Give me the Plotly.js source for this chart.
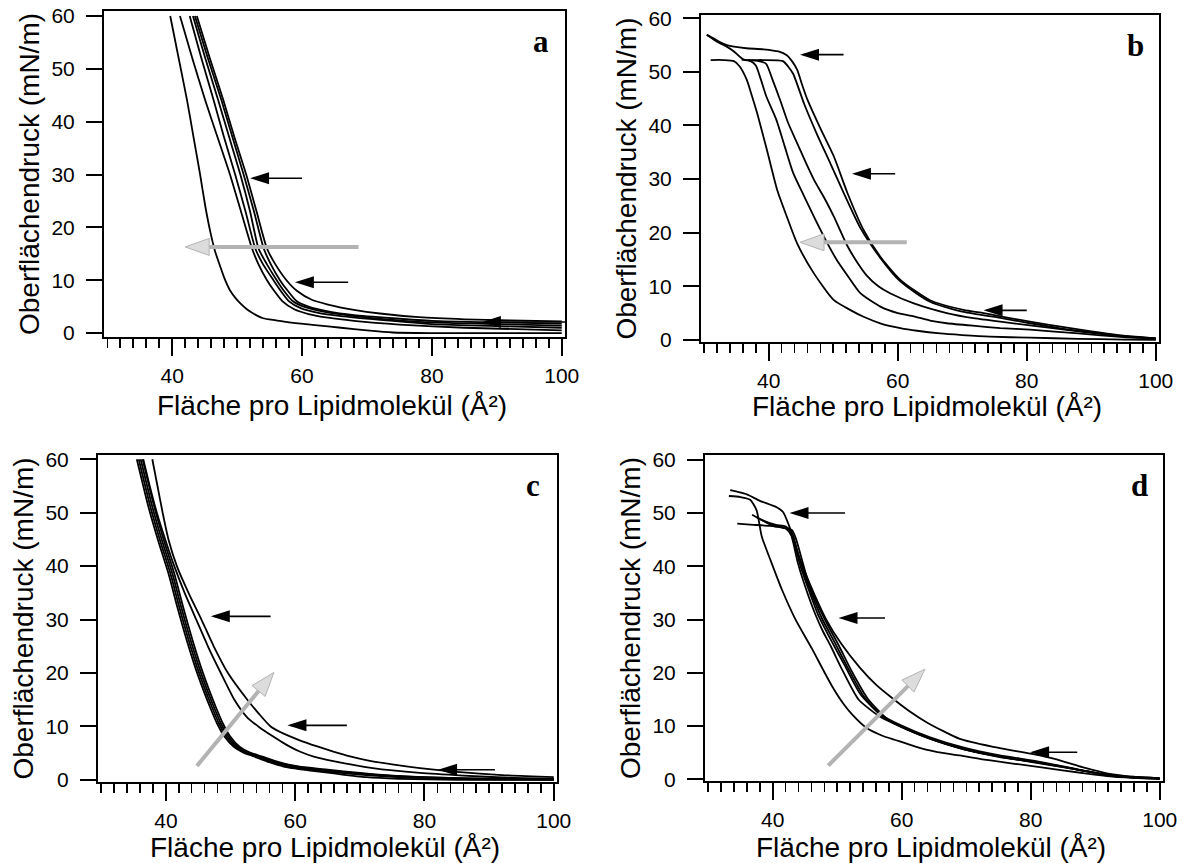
<!DOCTYPE html>
<html><head><meta charset="utf-8">
<script src="https://cdn.plot.ly/plotly-3.0.1.min.js"></script>
<style>html,body{margin:0;padding:0;background:#fff;} #chart{width:1189px;height:863px;}</style>
</head><body><div id="chart"></div>
<script>
// ---------------- labels ----------------
const xTitle = 'Fläche pro Lipidmolekül (Å²)';
const yTitle = 'Oberflächendruck (mN/m)';
const xTickVals = [40, 60, 80, 100];
const yTickVals = [0, 10, 20, 30, 40, 50, 60];
const panelLabels = ['a', 'b', 'c', 'd'];

// ---------------- panel a ----------------
const a1_x = [39.7, 41.0, 42.3, 43.3, 44.3, 45.1, 45.9, 46.6, 47.4, 48.1, 48.9, 49.7, 50.5, 51.5, 52.5, 54.0, 56.0, 58.0, 62.0, 66.0, 70.0, 74.0, 80.0, 100.0];
const a1_y = [60, 52, 44, 37, 30, 24, 19, 15.5, 12.6, 10.2, 8.1, 6.7, 5.6, 4.5, 3.7, 2.8, 2.4, 2.0, 1.5, 1.0, 0.5, 0.1, 0, 0];
const a2_x = [41.2, 43.1, 45.1, 47.0, 48.9, 50.6, 52.3, 53.3, 54.6, 55.7, 57.0, 58.8, 61.0, 64.0, 68.0, 75.0, 85.0, 100];
const a2_y = [60, 52, 44, 37, 30, 23, 16, 13, 10, 8, 6, 4.5, 3.6, 2.9, 2.3, 1.6, 1.0, 0.5];
const a3_x = [42.7, 44.5, 46.4, 48.0, 49.7, 51.3, 52.8, 54.0, 55.6, 56.7, 58.0, 59.8, 62.5, 66.0, 72.0, 80.0, 90.0, 100];
const a3_y = [60, 52, 44, 37, 30, 23, 16, 13, 10, 8, 6, 4.7, 3.8, 3.2, 2.5, 1.7, 1.3, 1.0];
const a4_x = [43.2, 45.1, 47.1, 48.8, 50.5, 52.0, 53.3, 54.6, 56.1, 57.2, 58.6, 60.5, 63.5, 68.0, 74.0, 80.0, 90.0, 100];
const a4_y = [60, 52, 44, 37, 30, 23, 16, 13, 10, 8, 6, 4.9, 4.0, 3.2, 2.5, 2.0, 1.7, 1.4];
const a5_x = [43.5, 45.5, 47.6, 49.3, 51.0, 52.6, 54.1, 55.2, 56.6, 57.8, 59.2, 61.0, 64.0, 68.0, 74.0, 80.0, 90.0, 100];
const a5_y = [60, 52, 44, 37, 30, 23, 16, 13, 10, 8, 6, 5.0, 4.1, 3.4, 2.8, 2.3, 2.0, 1.8];
const a6_x = [43.8, 45.8, 47.9, 49.6, 51.4, 53.0, 54.6, 55.9, 57.6, 59.2, 61.5, 64.0, 68.0, 72.0, 78.0, 85.0, 92.0, 100];
const a6_y = [60, 52, 44, 37, 30, 23, 16, 13, 10, 8, 6.3, 5.4, 4.4, 3.7, 3.0, 2.6, 2.4, 2.2];

// ---------------- panel b ----------------
const b1_x = [31.0, 33.0, 34.6, 35.5, 36.6, 37.4, 38.2, 39.7, 41.3, 42.8, 44.4, 47.0, 50.1, 52.6, 54.7, 57.5, 60.4, 63.0, 66.6, 70.0, 74.3, 80.5, 88.0, 95.0, 100];
const b1_y = [52.2, 52.2, 52.0, 51.0, 48.5, 45.5, 42.3, 35.5, 28.0, 23.0, 18.0, 12.4, 7.4, 5.6, 4.3, 3.0, 2.2, 1.7, 1.2, 0.9, 0.6, 0.4, 0.2, 0.05, 0];
const b2_x = [35.8, 37.2, 38.0, 38.8, 39.6, 41.2, 42.5, 43.8, 45.4, 47.0, 49.1, 50.6, 52.2, 54.2, 57.3, 60.0, 62.5, 65.0, 67.6, 72.0, 75.9, 80.5, 88, 95, 100];
const b2_y = [52.3, 52.0, 51.2, 48.5, 45.5, 41.0, 36.0, 31.1, 27.0, 23.0, 18.0, 14.8, 12.0, 8.7, 6.2, 5.0, 4.4, 3.6, 3.1, 2.6, 2.2, 1.9, 1.2, 0.5, 0.2];
const b3_x = [36.8, 38.5, 39.6, 40.6, 41.75, 43.0, 44.4, 45.7, 47.0, 48.6, 50.1, 52.2, 53.7, 55.2, 57.0, 58.8, 62.5, 67.6, 72.0, 75.9, 80.5, 88, 95, 100];
const b3_y = [52.2, 52.0, 51.5, 48.5, 44.8, 40.5, 36.7, 33.2, 29.9, 26.5, 23.0, 17.5, 14.5, 12.0, 10.0, 8.7, 6.8, 5.0, 4.0, 3.4, 2.7, 1.6, 0.7, 0.3];
const b4_x = [30.4, 31.5, 32.5, 33.5, 34.6, 36.1, 39.0, 42.2, 43.0, 43.8, 45.5, 47.5, 49.6, 51.7, 54.2, 57.3, 60.4, 65.0, 70.2, 75.9, 80.5, 85, 90, 95, 100];
const b4_y = [56.9, 56.0, 55.3, 54.7, 53.8, 52.3, 52.2, 52.0, 51.0, 49.6, 44.0, 38.3, 32.8, 27.2, 20.9, 15.3, 10.9, 7.1, 5.2, 4.1, 3.1, 2.2, 1.4, 0.7, 0.2];
const b5_x = [30.4, 31.5, 32.5, 33.5, 34.6, 36.5, 39.2, 41.5, 42.8, 43.6, 44.4, 45.2, 46.0, 48.1, 50.1, 52.2, 54.7, 57.3, 60.4, 65.0, 70.2, 73.3, 75.9, 80.5, 85, 90, 95, 100];
const b5_y = [56.9, 56.2, 55.5, 55.0, 54.7, 54.4, 54.2, 53.8, 53.1, 52.0, 50.4, 47.5, 44.8, 39.2, 34.2, 27.4, 20.5, 15.5, 11.2, 7.4, 5.6, 5.0, 4.4, 3.4, 2.5, 1.6, 0.8, 0.3];

// ---------------- panel c ----------------
const c1_x = [35.5, 36.4, 37.3, 38.8, 40.4, 41.8, 43.2, 44.5, 45.8, 46.9, 47.9, 49.0, 50.5, 52.0, 53.6, 56.0, 58.2, 62.0, 66.0, 71.0, 76.0, 85.0, 100];
const c1_y = [60, 55.5, 51.1, 44.8, 38.6, 32.2, 26.2, 21.2, 16.8, 13.4, 10.6, 8.2, 6.2, 5.1, 4.4, 3.3, 2.5, 1.8, 1.2, 0.5, 0.2, 0, 0];
const c2_x = [35.8, 36.7, 37.6, 39.1, 40.7, 42.1, 43.5, 44.8, 46.1, 47.2, 48.2, 49.3, 50.8, 52.3, 54.0, 56.5, 59.0, 63.0, 67.0, 72.0, 78.0, 88.0, 100];
const c2_y = [60, 55.5, 51.1, 44.8, 38.6, 32.2, 26.2, 21.2, 16.8, 13.4, 10.6, 8.2, 6.2, 5.1, 4.4, 3.3, 2.5, 1.8, 1.3, 0.8, 0.4, 0.1, 0];
const c3_x = [36.1, 37.0, 37.9, 39.4, 41.0, 42.4, 43.8, 45.1, 46.4, 47.5, 48.5, 49.6, 51.1, 52.7, 54.5, 57.0, 60.0, 64.0, 68.0, 73.0, 80.0, 90.0, 100];
const c3_y = [60, 55.5, 51.1, 44.8, 38.6, 32.2, 26.2, 21.2, 16.8, 13.4, 10.6, 8.2, 6.2, 5.1, 4.4, 3.3, 2.5, 1.9, 1.4, 0.9, 0.5, 0.2, 0.1];
const c4_x = [36.4, 37.3, 38.2, 39.7, 41.3, 42.7, 44.1, 45.4, 46.7, 47.8, 48.8, 49.9, 51.4, 53.0, 54.8, 57.5, 60.5, 65.0, 70.0, 75.0, 82.0, 92.0, 100];
const c4_y = [60, 55.5, 51.1, 44.8, 38.6, 32.2, 26.2, 21.2, 16.8, 13.4, 10.6, 8.2, 6.2, 5.1, 4.4, 3.3, 2.5, 1.9, 1.3, 0.8, 0.4, 0.2, 0.1];
const c5_x = [36.5, 37.5, 38.6, 39.9, 41.3, 42.9, 44.7, 46.5, 48.5, 50.6, 52.5, 54.5, 56.6, 58.6, 60.7, 63.0, 65.9, 72.0, 79.3, 86.0, 93.0, 100];
const c5_y = [60, 55, 50, 45, 40, 35, 30, 25, 20, 15, 11.8, 9.8, 8.1, 6.6, 5.3, 4.3, 3.5, 2.2, 1.3, 0.8, 0.4, 0.2];
const c6_x = [37.9, 38.7, 39.5, 40.4, 41.7, 43.5, 45.5, 47.4, 49.6, 52.6, 54.3, 56.2, 58.3, 60.7, 63.3, 65.9, 68.5, 71.0, 75.0, 79.3, 85.0, 92.0, 100];
const c6_y = [60, 55, 50, 45, 40, 35, 30, 25, 20, 15, 12.5, 10, 8.6, 7.4, 6.3, 5.3, 4.4, 3.7, 2.9, 2.2, 1.5, 0.9, 0.5];

// ---------------- panel d ----------------
const d1_x = [33.4, 34.5, 36.0, 38.0, 40.6, 41.6, 42.6, 43.9, 45.9, 48.3, 50.6, 53.5, 56.0, 58.7, 61.2, 63.9, 69.0, 74.2, 81.4, 85.0, 88.0, 92.0, 96.0, 100];
const d1_y = [54.3, 54.0, 53.5, 52.3, 51.1, 50.2, 47.4, 42.4, 36.3, 30.0, 25.5, 21.0, 17.8, 15.1, 12.8, 10.7, 7.6, 6.1, 4.5, 3.4, 2.3, 1.1, 0.5, 0.2];
const d2_x = [33.2, 35.0, 36.5, 37.5, 38.3, 39.8, 41.4, 43.5, 46.1, 47.8, 49.2, 50.9, 52.3, 54.5, 57.0, 59.0, 62.0, 65.2, 69.0, 73.5, 81.4, 88.0, 93.0, 100];
const d2_y = [53.2, 53.0, 52.5, 50.5, 45.6, 40.7, 35.7, 30.1, 24.5, 20.6, 17.5, 14.3, 12.2, 9.7, 8.2, 7.4, 6.2, 5.2, 4.5, 3.6, 2.3, 1.2, 0.5, 0.2];
const d3_x = [34.5, 37.0, 39.5, 41.5, 42.3, 42.9, 43.9, 45.2, 46.6, 47.7, 49.0, 50.8, 53.3, 56.6, 59.8, 64.4, 69.5, 75.2, 81.0, 86.0, 91.0, 95.0, 100];
const d3_y = [48.0, 47.8, 47.6, 47.3, 46.8, 45.7, 40.6, 35.6, 31.0, 28.0, 25.0, 20.5, 15.0, 11.8, 9.9, 7.6, 5.7, 4.2, 3.2, 2.1, 1.0, 0.5, 0.2];
const d4_x = [36.8, 38.5, 40.5, 42.0, 42.7, 43.3, 44.3, 45.6, 47.0, 49.1, 51.2, 53.6, 56.6, 59.8, 64.4, 69.5, 75.2, 81.0, 86.0, 91.0, 95.0, 100];
const d4_y = [49.7, 48.6, 47.8, 47.5, 46.5, 44.5, 40.0, 35.5, 31.0, 26.0, 21.3, 16.0, 12.3, 10.2, 7.9, 6.0, 4.5, 3.4, 2.2, 1.0, 0.5, 0.2];
const d5_x = [37.5, 39.5, 41.5, 42.6, 43.1, 43.8, 44.8, 46.1, 47.6, 49.7, 51.7, 54.1, 57.2, 60.5, 65.0, 70.0, 76.0, 82.0, 87.0, 91.5, 95.5, 100];
const d5_y = [49.2, 48.0, 47.3, 47.0, 46.0, 43.0, 39.0, 34.6, 30.3, 25.5, 20.8, 15.6, 11.6, 9.6, 7.4, 5.6, 4.1, 3.0, 1.9, 0.9, 0.4, 0.1];
const d6_x = [38.2, 40.0, 42.0, 43.0, 43.6, 44.4, 45.4, 46.7, 48.3, 50.3, 52.2, 54.7, 57.8, 61.0, 65.5, 70.5, 77.0, 83.0, 87.5, 92.0, 96.0, 100];
const d6_y = [48.8, 47.6, 47.2, 46.8, 45.2, 41.8, 37.5, 33.5, 29.5, 25.0, 20.4, 15.2, 11.3, 9.3, 7.2, 5.4, 3.9, 2.7, 1.8, 0.8, 0.3, 0.1];

// ---------------- arrow annotations (tip x, tail x, y) ----------------
const arrowsA = [[52.0, 60.0, 29.3], [58.9, 67.1, 9.6], [87.7, 100.5, 2.1]];
const arrowsB = [[44.85, 51.6, 53.2], [52.9, 59.6, 31.0], [73.3, 80.0, 5.5]];
const arrowsC = [[46.95, 56.2, 30.6], [58.8, 68.0, 10.2], [82.1, 90.9, 1.9]];
const arrowsD = [[42.6, 51.2, 50.0], [50.2, 57.4, 30.3], [79.9, 87.2, 5.1]];
// grey trend arrows: tail x, tail y, tip x, tip y
const greyA = [68.7, 16.3, 42.0, 16.3];
const greyB = [61.4, 18.2, 44.85, 18.2];
const greyC = [44.8, 2.6, 56.7, 20.1];
const greyD = [48.6, 2.6, 63.6, 20.7];

// ---------------- layout geometry (pixels) ----------------
const W = 1189, H = 863;
const frames = [ // left, right, top, bottom
  [104, 565, 11, 337],
  [701, 1159, 15, 342],
  [98, 557, 455, 782],
  [705, 1163, 455, 781]
];
const xTitleY = [405, 407, 847, 847];
const xRanges = [[29.5, 100.5], [29.5, 100.5], [29.5, 100.5], [29.5, 100.5]];
const yRanges = [[-0.75, 60.95], [-0.4, 60.6], [-0.4, 60.8], [-0.3, 60.9]];

const panels = [
  [[a1_x, a1_y], [a2_x, a2_y], [a3_x, a3_y], [a4_x, a4_y], [a5_x, a5_y], [a6_x, a6_y]],
  [[b1_x, b1_y], [b2_x, b2_y], [b3_x, b3_y], [b4_x, b4_y], [b5_x, b5_y]],
  [[c1_x, c1_y], [c2_x, c2_y], [c3_x, c3_y], [c4_x, c4_y], [c5_x, c5_y], [c6_x, c6_y]],
  [[d1_x, d1_y], [d2_x, d2_y], [d3_x, d3_y], [d4_x, d4_y], [d5_x, d5_y], [d6_x, d6_y]]
];
const blackArrows = [arrowsA, arrowsB, arrowsC, arrowsD];
const greyArrows = [greyA, greyB, greyC, greyD];

const FONT = '"Liberation Sans", Arial, Helvetica, sans-serif';
const traces = [];
const shapes = [];
const annotations = [];
const layout = {
  width: W, height: H,
  margin: {l: 0, r: 0, t: 0, b: 0},
  paper_bgcolor: '#fff', plot_bgcolor: '#fff',
  showlegend: false,
  font: {family: FONT, color: '#000', size: 21}
};

panels.forEach((curves, i) => {
  const n = i === 0 ? '' : String(i + 1);
  const xa = 'x' + n, ya = 'y' + n;
  const [L, R, T, B] = frames[i];
  layout['xaxis' + n] = {
    domain: [L / W, R / W], anchor: ya, range: xRanges[i],
    tickvals: xTickVals, ticks: 'outside', ticklen: 17, tickwidth: 2, tickcolor: '#000',
    minor: {tick0: 30, dtick: 2, ticks: 'outside', ticklen: 9, tickwidth: 1.5, tickcolor: '#000', showgrid: false},
    showline: true, linewidth: 2, linecolor: '#000', mirror: true,
    showgrid: false, zeroline: false, automargin: false,
    tickfont: {size: 21, family: FONT, color: '#000'}, ticklabelstandoff: 2
  };
  layout['yaxis' + n] = {
    domain: [1 - B / H, 1 - T / H], anchor: xa, range: yRanges[i],
    tickvals: yTickVals, ticks: 'outside', ticklen: 16, tickwidth: 2, tickcolor: '#000',
    showline: true, linewidth: 2, linecolor: '#000', mirror: true,
    showgrid: false, zeroline: false, automargin: false,
    tickfont: {size: 21, family: FONT, color: '#000'}, ticklabelstandoff: 7,
    title: {text: yTitle, font: {size: 28, family: FONT, color: '#000'}, standoff: 4}
  };
  curves.forEach(([x, y]) => {
    traces.push({x: x, y: y, xaxis: xa, yaxis: ya, type: 'scatter', mode: 'lines',
      line: {color: '#000', width: 1.8, shape: 'spline', smoothing: 0.6}, hoverinfo: 'skip'});
  });
  // black arrows
  blackArrows[i].forEach(([tip, tail, y]) => {
    shapes.push({type: 'line', xref: xa, yref: ya, x0: tail, x1: tip + 0.5, y0: y, y1: y,
      line: {color: '#000', width: 1.6}});
    shapes.push({type: 'path', xref: xa, yref: ya, xsizemode: 'pixel', ysizemode: 'pixel',
      xanchor: tip, yanchor: y, path: 'M0,0 L19,6 L19,-6 Z', fillcolor: '#000', line: {width: 0}});
  });
  // grey arrow
  const [tx0, ty0, tx1, ty1] = greyArrows[i];
  const pxX = (R - L) / (xRanges[i][1] - xRanges[i][0]);
  const pxY = (B - T) / (yRanges[i][1] - yRanges[i][0]);
  const dx = (tx1 - tx0) * pxX, dy = (ty1 - ty0) * pxY;
  const len = Math.hypot(dx, dy), ux = dx / len, uy = dy / len;
  const HL = 24, HW = 8.5;
  const bx = -ux * HL, by = -uy * HL, nx = -uy, ny = ux;
  const p = (v) => v.toFixed(2);
  shapes.push({type: 'line', xref: xa, yref: ya, x0: tx0, y0: ty0,
    x1: tx1 - ux * (HL - 1) / pxX, y1: ty1 - uy * (HL - 1) / pxY,
    line: {color: '#b3b3b3', width: 4}});
  shapes.push({type: 'path', xref: xa, yref: ya, xsizemode: 'pixel', ysizemode: 'pixel',
    xanchor: tx1, yanchor: ty1,
    path: 'M0,0 L' + p(bx + nx * HW) + ',' + p(by + ny * HW) + ' L' + p(bx - nx * HW) + ',' + p(by - ny * HW) + ' Z',
    fillcolor: '#dcdcdc', line: {color: '#b3b3b3', width: 1}});
  // x-axis title (placed as annotation for exact position)
  annotations.push({xref: 'paper', yref: 'paper', x: ((L + R) / 2 - 3) / W, y: 1 - xTitleY[i] / H,
    text: xTitle, showarrow: false, xanchor: 'center', yanchor: 'middle',
    font: {family: FONT, size: 28, color: '#000'}});
  // panel letter
  annotations.push({xref: 'paper', yref: 'paper', x: (R - 24) / W, y: 1 - (T + 30) / H,
    text: '<b>' + panelLabels[i] + '</b>', showarrow: false, xanchor: 'center', yanchor: 'middle',
    font: {family: '"Liberation Serif", "Times New Roman", serif', size: 31, color: '#000'}});
});
layout.shapes = shapes;
layout.annotations = annotations;

Plotly.newPlot('chart', traces, layout, {staticPlot: true, displayModeBar: false});
</script></body></html>
